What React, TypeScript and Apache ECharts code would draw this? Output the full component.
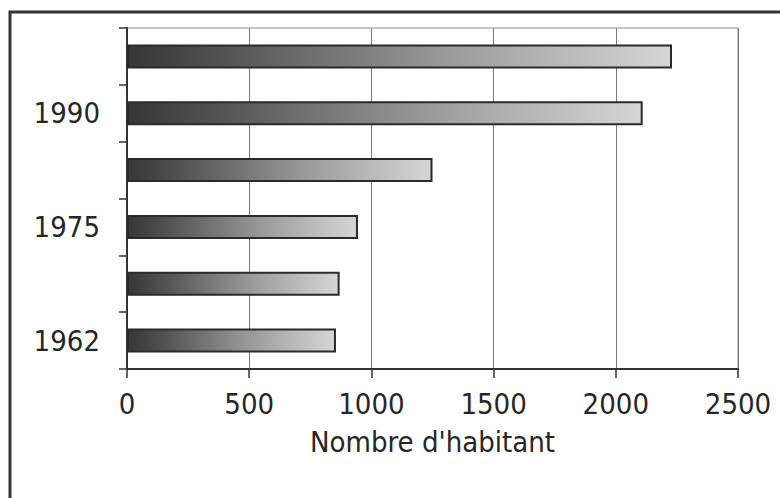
import React, { useEffect, useRef } from "react";
import * as echarts from "echarts";

// Census years (bottom to top) and population counts
const years = ["1962", "1968", "1975", "1982", "1990", "1999"];
const habitants = [855, 870, 945, 1250, 2110, 2230];

// Horizontal axis ticks
const xMin = 0;
const xMax = 2500;
const xStep = 500;

const axisName = "Nombre d'habitant";

const FONT = "'DejaVu Sans Condensed', 'DejaVu Sans', 'Liberation Sans', sans-serif";
const TEXT_COLOR = "#262626";

export default function App() {
  const ref = useRef<HTMLDivElement>(null);

  useEffect(() => {
    if (!ref.current) return;
    const chart = echarts.init(ref.current, undefined, { renderer: "svg" });

    const barFill = new echarts.graphic.LinearGradient(0, 0, 1, 0, [
      { offset: 0, color: "#363636" },
      { offset: 0.2, color: "#575757" },
      { offset: 0.6, color: "#9c9c9c" },
      { offset: 1, color: "#d6d6d6" },
    ]);

    chart.setOption({
      animation: false,
      backgroundColor: "#ffffff",
      textStyle: { fontFamily: FONT },
      grid: {
        left: 127,
        top: 28,
        width: 611,
        height: 341,
        show: true,
        borderColor: "#8a8a8a",
        borderWidth: 1,
        backgroundColor: "transparent",
      },
      graphic: [
        {
          type: "rect",
          shape: { x: 10, y: 12, width: 800, height: 520 },
          style: { fill: "none", stroke: "#333333", lineWidth: 3 },
          silent: true,
          z: 10,
        },
      ],
      xAxis: {
        type: "value",
        min: xMin,
        max: xMax,
        interval: xStep,
        name: axisName,
        nameLocation: "middle",
        nameGap: 58,
        nameTextStyle: { fontSize: 29, color: TEXT_COLOR, fontFamily: FONT },
        axisLine: { show: true, lineStyle: { color: "#333333", width: 2 } },
        axisTick: { show: true, length: 9, lineStyle: { color: "#333333", width: 1.5 } },
        axisLabel: {
          fontSize: 29,
          color: TEXT_COLOR,
          margin: 20,
          fontFamily: FONT,
          formatter: (v: number) => String(v),
        },
        splitLine: { show: true, lineStyle: { color: "#7a7a7a", width: 1 } },
      },
      yAxis: {
        type: "category",
        data: years,
        axisLine: { show: true, lineStyle: { color: "#333333", width: 2 } },
        axisTick: {
          show: true,
          interval: 0,
          length: 8,
          lineStyle: { color: "#333333", width: 1.5 },
        },
        axisLabel: {
          interval: 1,
          fontSize: 29,
          color: TEXT_COLOR,
          margin: 27,
          fontFamily: FONT,
        },
        splitLine: { show: false },
      },
      series: [
        {
          type: "bar",
          data: habitants,
          barWidth: 24,
          itemStyle: {
            color: barFill,
            borderColor: "#2a2a2a",
            borderWidth: 2,
          },
        },
      ],
    });

    return () => chart.dispose();
  }, []);

  return (
    <div
      ref={ref}
      style={{ position: "fixed", left: 0, top: 0, width: 780, height: 498 }}
    />
  );
}
